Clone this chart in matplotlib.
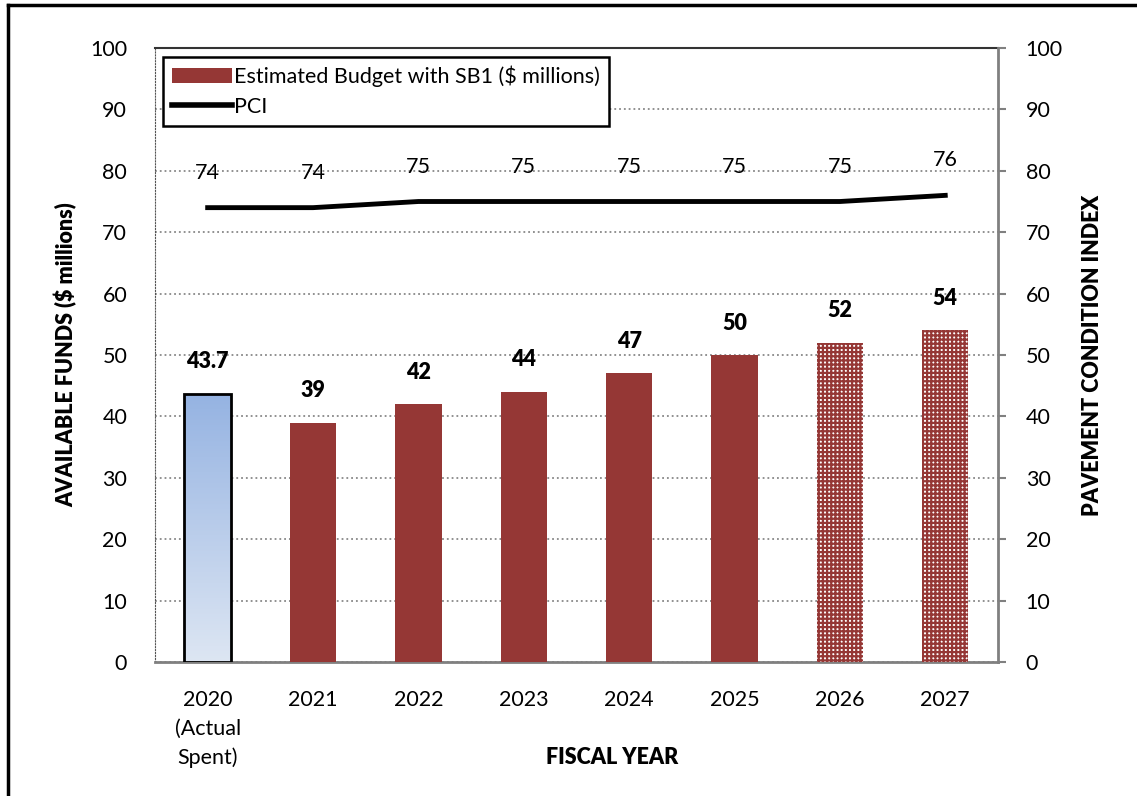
import numpy as np
import matplotlib
matplotlib.use('Agg')
import matplotlib.pyplot as plt
from matplotlib.lines import Line2D
from matplotlib.patches import Patch

plt.rcParams['font.family'] = ['Lato', 'DejaVu Sans']

# data
years = ['2020\n(Actual\nSpent)', '2021', '2022', '2023', '2024', '2025', '2026', '2027']
budget = [43.7, 39, 42, 44, 47, 50, 52, 54]
budget_labels = ['43.7', '39', '42', '44', '47', '50', '52', '54']
pci = [74, 74, 75, 75, 75, 75, 75, 76]
yticks = [0, 10, 20, 30, 40, 50, 60, 70, 80, 90, 100]

red = '#953735'
fs = 15.5

fig = plt.figure(figsize=(11.37, 7.96), dpi=100)
ax = fig.add_axes([0.1363, 0.1683, 0.7414, 0.7714])
x = np.arange(len(years))
w = 0.44

# 2020 actual spent, gradient fill
b0 = ax.bar(x[0], budget[0], w, facecolor='none', edgecolor='black', linewidth=2, zorder=4)
grad = np.linspace(0, 1, 256).reshape(-1, 1)
img = ax.imshow(grad, cmap=matplotlib.colors.LinearSegmentedColormap.from_list('g', ['#dde6f3', '#95b3e2']),
                extent=[x[0] - w / 2, x[0] + w / 2, 0, budget[0]], origin='lower', aspect='auto', zorder=3)
img.set_clip_path(b0[0])

# estimated budget
ax.bar(x[1:6], budget[1:6], w, color=red, zorder=3)
plt.rcParams['hatch.linewidth'] = 1.6
ax.bar(x[6:], budget[6:], w, facecolor='white', edgecolor=red, hatch='++++', linewidth=0, zorder=3)

for xi, v, lab in zip(x, budget, budget_labels):
    ax.annotate(lab, (xi, v), xytext=(0, 32), textcoords='offset pixels', ha='center', va='center',
                fontsize=fs, fontweight='heavy')

ax.set_xlim(-0.5, 7.5)
ax.set_ylim(0, 100)
ax.set_yticks(yticks)
ax.set_xticks(x)
ax.set_xticklabels(years, fontsize=fs, linespacing=1.55)
ax.tick_params(axis='x', length=0, pad=20)
ax.tick_params(axis='y', length=0, pad=20, labelsize=fs)
ax.yaxis.grid(True, linestyle=':', color='#888888', linewidth=1.3)
ax.set_axisbelow(True)
ax.spines['left'].set_linestyle(':')
ax.spines['left'].set_color('#555555')
ax.spines['bottom'].set_color('#808080')
ax.spines['bottom'].set_linewidth(2)
ax.spines['top'].set_color('#333333')
ax.spines['top'].set_linewidth(1.5)
ax.spines['right'].set_visible(False)

ax2 = ax.twinx()
ax2.set_ylim(0, 100)
ax2.set_yticks(yticks)
ax2.tick_params(axis='y', length=6, width=1.5, color='#808080', pad=14, labelsize=fs)
ax2.spines['right'].set_color('#808080')
ax2.spines['right'].set_linewidth(2)
for s in ['left', 'top', 'bottom']:
    ax2.spines[s].set_visible(False)
ax2.plot(x, pci, color='black', linewidth=3.5, zorder=5)
for xi, v in zip(x, pci):
    ax2.annotate(str(v), (xi, v), xytext=(0, 35), textcoords='offset pixels', ha='center', va='center',
                 fontsize=fs)

ax.set_ylabel('AVAILABLE FUNDS ($ millions)', fontsize=fs, fontweight='heavy')
ax.yaxis.set_label_coords(-0.092, 0.5)
ax2.set_ylabel('PAVEMENT CONDITION INDEX', fontsize=fs, fontweight='heavy')
ax2.yaxis.set_label_coords(1.10, 0.5)
fig.text(612 / 1137, 1 - 757 / 796, 'FISCAL YEAR', ha='center', va='center', fontsize=fs, fontweight='heavy')

handles = [Patch(facecolor=red, edgecolor='none'), Line2D([], [], color='black', linewidth=4)]
leg = ax2.legend(handles, ['Estimated Budget with SB1 ($ millions)', 'PCI'], loc='upper left',
                 bbox_to_anchor=(0.0095, 0.985), borderaxespad=0, fontsize=fs, fancybox=False,
                 edgecolor='black', framealpha=1, handlelength=2.8, handletextpad=0.1, labelspacing=0.45)
leg.get_frame().set_linewidth(1.8)

# outer frame (left and top only)
fig.add_artist(Line2D([8 / 1137, 8 / 1137], [0, 1 - 5 / 796], color='black', linewidth=2.5))
fig.add_artist(Line2D([8 / 1137, 1], [1 - 5 / 796, 1 - 5 / 796], color='black', linewidth=2.5))

fig.savefig('out.png', dpi=100)
